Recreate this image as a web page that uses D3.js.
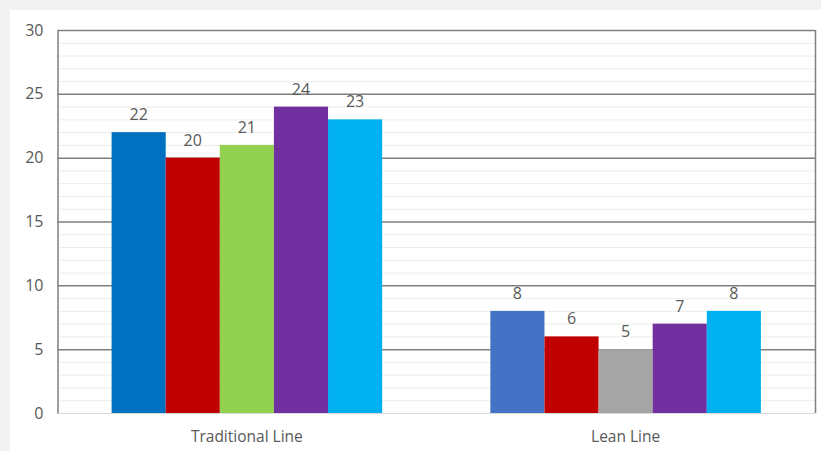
<!DOCTYPE html>
<html>
<head>
<meta charset="utf-8">
<script src="https://cdn.jsdelivr.net/npm/d3@7"></script>
<style>
  body { margin: 0; background: #f2f2f2; }
  text { font-family: "Open Sans", "Noto Sans", sans-serif; fill: #595959; }
</style>
</head>
<body>
<div id="chart"></div>
<script>
const w = 821;
const h = 451;

const margin = { top: 30, right: 6, bottom: 38, left: 57.5 };

// data
const categories = ["Traditional Line", "Lean Line"];
const seriesKeys = ["s1", "s2", "s3", "s4", "s5"];
const traditionalValues = [22, 20, 21, 24, 23];
const leanValues = [8, 6, 5, 7, 8];
const traditionalColors = ["#0070C0", "#C00000", "#92D050", "#7030A0", "#00B0F0"];
const leanColors = ["#4472C4", "#C00000", "#A5A5A5", "#7030A0", "#00B0F0"];
const yTicks = [0, 5, 10, 15, 20, 25, 30];

const rows = [
    { cat: categories[0], values: traditionalValues, colors: traditionalColors },
    { cat: categories[1], values: leanValues, colors: leanColors }
];

const width = w - margin.left - margin.right;
const height = h - margin.top - margin.bottom;

const svg = d3.select("#chart")
    .append("svg")
    .attr("width", w)
    .attr("height", h);

// white panel
svg.append("rect")
    .attr("x", 10).attr("y", 10)
    .attr("width", w - 10).attr("height", h - 10)
    .attr("fill", "#ffffff");

const g = svg.append("g")
    .attr("transform", "translate(" + margin.left + "," + margin.top + ")");

const x0 = d3.scaleBand()
    .domain(categories)
    .range([0, width]);

const x1 = d3.scaleBand()
    .domain(seriesKeys)
    .range([0, x0.bandwidth()])
    .paddingOuter(1);

const y = d3.scaleLinear()
    .domain([0, 30])
    .range([height, 0]);

// minor gridlines
g.append("g")
    .selectAll("line")
    .data(d3.range(1, 30).filter(v => v % 5 !== 0))
    .enter()
    .append("line")
    .attr("x1", 0).attr("x2", width)
    .attr("y1", d => y(d) + 0.5).attr("y2", d => y(d) + 0.5)
    .attr("stroke", "#ececec")
    .attr("stroke-width", 1);

// major gridlines
g.append("g")
    .selectAll("line")
    .data(yTicks.filter(v => v > 0))
    .enter()
    .append("line")
    .attr("x1", 0).attr("x2", width)
    .attr("y1", d => y(d) + 0.5).attr("y2", d => y(d) + 0.5)
    .attr("stroke", "#7f7f7f")
    .attr("stroke-width", 1.5);

// bottom line
g.append("line")
    .attr("x1", 0).attr("x2", width)
    .attr("y1", y(0) + 0.5).attr("y2", y(0) + 0.5)
    .attr("stroke", "#d9d9d9");

// right border
g.append("line")
    .attr("x1", width + 0.5).attr("x2", width + 0.5)
    .attr("y1", 0).attr("y2", height)
    .attr("stroke", "#7f7f7f")
    .attr("stroke-width", 1.5);

// y axis
const yAxis = g.append("g")
    .call(d3.axisLeft(y).tickValues(yTicks).tickSize(0).tickPadding(14));
yAxis.select(".domain").attr("stroke", "#7f7f7f").attr("stroke-width", 1.5);
yAxis.selectAll("text")
    .style("font-size", "16px")
    .attr("fill", "#404040");

// bars
const groups = g.selectAll(".grp")
    .data(rows)
    .enter()
    .append("g")
    .attr("class", "grp")
    .attr("transform", d => "translate(" + x0(d.cat) + ",0)");

groups.selectAll("rect")
    .data(d => d.values.map((v, i) => ({ key: seriesKeys[i], value: v, color: d.colors[i] })))
    .enter()
    .append("rect")
    .attr("x", d => x1(d.key))
    .attr("width", x1.bandwidth())
    .attr("y", d => y(d.value))
    .attr("height", d => y(0) - y(d.value))
    .attr("fill", d => d.color);

groups.selectAll(".lbl")
    .data(d => d.values.map((v, i) => ({ key: seriesKeys[i], value: v })))
    .enter()
    .append("text")
    .attr("class", "lbl")
    .attr("x", d => x1(d.key) + x1.bandwidth() / 2)
    .attr("y", d => y(d.value) - 12)
    .attr("text-anchor", "middle")
    .style("font-size", "16px")
    .text(d => d.value);

// category labels
g.selectAll(".cat")
    .data(categories)
    .enter()
    .append("text")
    .attr("class", "cat")
    .attr("x", d => x0(d) + x0.bandwidth() / 2)
    .attr("y", height + 29)
    .attr("text-anchor", "middle")
    .style("font-size", "15.5px")
    .attr("fill", "#404040")
    .text(d => d);
</script>
</body>
</html>
